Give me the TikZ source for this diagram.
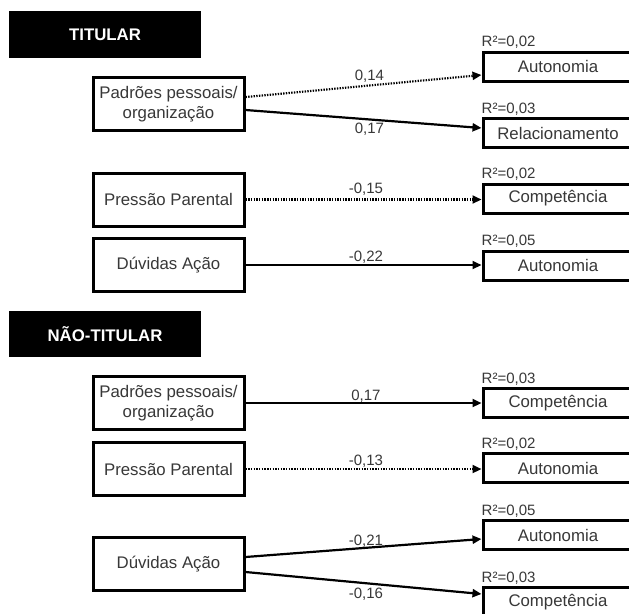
\documentclass[tikz,border=0pt]{standalone}
\usepackage{fontspec}
\setmainfont{Liberation Sans}
\usetikzlibrary{arrows.meta,calc}
\definecolor{txt}{HTML}{383838}
\begin{document}
\begin{tikzpicture}[x=1pt,y=-1pt,
  lbox/.style={draw=black, line width=3pt, minimum width=151pt, minimum height=53pt, inner sep=0pt, align=center, text=txt, font=\fontsize{16.8}{20}\selectfont},
  rbox/.style={draw=black, line width=3pt, minimum width=150pt, minimum height=29pt, inner sep=0pt, text=txt, font=\fontsize{16.8}{20}\selectfont},
  hdr/.style={fill=black, minimum width=192pt, inner sep=0pt, text=white, font=\bfseries\fontsize{16.8}{20}\selectfont},
  rsq/.style={anchor=base west, inner sep=0pt, text=txt, font=\fontsize{15}{18}\selectfont},
  coef/.style={anchor=base, inner sep=0pt, text=txt, font=\fontsize{15}{18}\selectfont},
  solidarrow/.style={line width=2.2pt, -{Triangle[length=9pt,width=8pt]}},
  dotarrow/.style={line width=2.2pt, dash pattern=on 1.4pt off 1.3pt, -{Triangle[length=9pt,width=8pt]}}
]
\useasboundingbox (0,0) rectangle (629,613);
\clip (0,0) rectangle (629,613);
\fill[white] (0,0) rectangle (629,613);

% TITULAR
\node[hdr, minimum height=47pt] (h1) at (105,34.5) {TITULAR};
\node[lbox] (pad1) at (168.5,104) {Padrões pessoais/\\organização};
\node[rbox] (aut1) at (558,66.5) {Autonomia};
\node[rbox] (rel1) at (558,133) {Relacionamento};
\node[lbox] (pres1) at (168.5,199.5) {Pressão Parental};
\node[rbox] (comp1) at (558,198.5) {Competência};
\node[lbox] (duv1) at (168.5,265) {Dúvidas Ação};
\node[rbox] (aut2) at (558,265.5) {Autonomia};

\node[rsq] (r1) at ([yshift=4pt]aut1.north west) {R²=0,02};
\node[rsq] (r2) at ([yshift=4pt]rel1.north west) {R²=0,03};
\node[rsq] (r3) at ([yshift=4pt]comp1.north west) {R²=0,02};
\node[rsq] (r4) at ([yshift=4pt]aut2.north west) {R²=0,05};

\draw[dotarrow] ([yshift=7pt]pad1.east) -- ([yshift=-8.5pt]aut1.west)
  node[coef, pos=0.525, yshift=5pt] (c1) {0,14};
\draw[solidarrow] ([yshift=-6pt]pad1.east) -- ([yshift=5pt]rel1.west)
  node[coef, pos=0.525, yshift=-14pt] (c2) {0,17};
\draw[dotarrow] (pres1.east) -- (pres1.east -| comp1.west)
  node[coef, pos=0.51, yshift=6.5pt] (c3) {-0,15};
\draw[solidarrow] (duv1.east) -- (duv1.east -| aut2.west)
  node[coef, pos=0.51, yshift=3.8pt] (c4) {-0,22};

% NAO-TITULAR
\node[hdr, minimum height=46pt] (h2) at (105,334) {NÃO-TITULAR};
\node[lbox] (pad2) at (168.5,403) {Padrões pessoais/\\organização};
\node[rbox] (comp2) at (558,403) {Competência};
\node[lbox] (pres2) at (168.5,469) {Pressão Parental};
\node[rbox] (aut3) at (558,468) {Autonomia};
\node[lbox] (duv2) at (168.5,564) {Dúvidas Ação};
\node[rbox] (aut4) at (558,535) {Autonomia};
\node[rbox] (comp3) at (558,602) {Competência};

\node[rsq] (r5) at ([yshift=4pt]comp2.north west) {R²=0,03};
\node[rsq] (r6) at ([yshift=4pt]aut3.north west) {R²=0,02};
\node[rsq] (r7) at ([yshift=4pt]aut4.north west) {R²=0,05};
\node[rsq] (r8) at ([yshift=4pt]comp3.north west) {R²=0,03};

\draw[solidarrow] (pad2.east) -- (pad2.east -| comp2.west)
  node[coef, pos=0.51, yshift=3pt] (c5) {0,17};
\draw[dotarrow] (pres2.east) -- (pres2.east -| aut3.west)
  node[coef, pos=0.51, yshift=3.6pt] (c6) {-0,13};
\draw[solidarrow] ([yshift=7pt]duv2.east) -- ([yshift=-4pt]aut4.west)
  node[coef, pos=0.51, yshift=2.5pt] (c7) {-0,21};
\draw[solidarrow] ([yshift=-8pt]duv2.east) -- ([yshift=8pt]comp3.west)
  node[coef, pos=0.51, yshift=-15pt] (c8) {-0,16};
\end{tikzpicture}
\end{document}
